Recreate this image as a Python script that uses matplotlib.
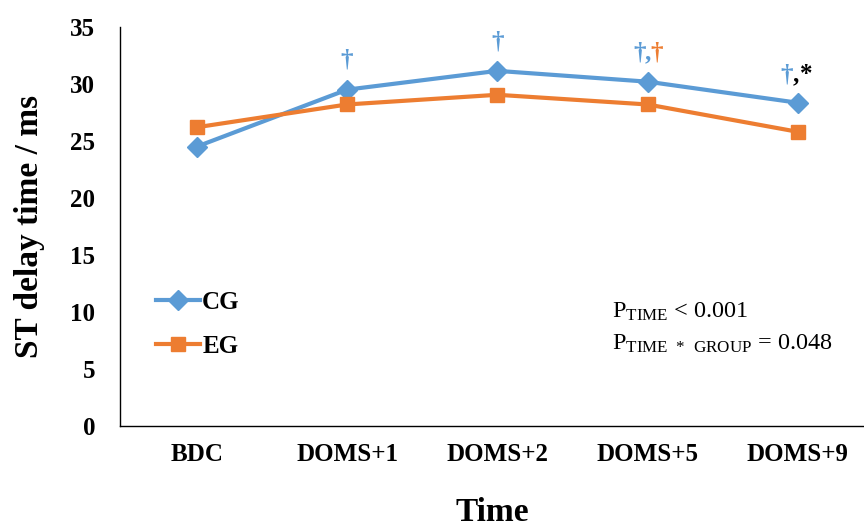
import matplotlib
matplotlib.use("Agg")
import matplotlib.pyplot as plt

plt.rcParams["font.family"] = ["Liberation Serif", "DejaVu Serif"]
plt.rcParams["mathtext.fontset"] = "custom"
plt.rcParams["mathtext.rm"] = "Liberation Serif"

times = ["BDC", "DOMS+1", "DOMS+2", "DOMS+5", "DOMS+9"]
cg = [24.5, 29.5, 31.15, 30.2, 28.35]
eg = [26.2, 28.2, 29.05, 28.2, 25.8]

blue = "#5B9BD5"
orange = "#ED7D31"

fig = plt.figure(figsize=(8.64, 5.29), dpi=100)
ax = fig.add_axes([0.139, 0.195, 0.861, 0.754])

x = range(len(times))
ax.plot(x, cg, color=blue, lw=3, marker="D", ms=10, label="CG")
ax.plot(x, eg, color=orange, lw=3, marker="s", ms=10.5, label="EG")

ax.set_xlim(-0.51, 4.44)
ax.set_ylim(0, 35)
ax.set_yticks(range(0, 36, 5))
ax.set_xticks(list(x))
ax.set_xticklabels(times)
ax.tick_params(length=0, labelsize=18, pad=12)
ax.tick_params(axis="y", pad=18)
for lab in ax.get_xticklabels() + ax.get_yticklabels():
    lab.set_fontweight("bold")
for s in ["top", "right"]:
    ax.spines[s].set_visible(False)
for s in ["left", "bottom"]:
    ax.spines[s].set_linewidth(1.0)

ax.set_xlabel("Time", fontsize=24, fontweight="bold", labelpad=23)
ax.set_ylabel("ST delay time / ms", fontsize=24, fontweight="bold", labelpad=18)

leg = ax.legend(loc="upper left", bbox_to_anchor=(0.018, 0.395), frameon=False,
                prop={"size": 18, "weight": "bold"}, handlelength=1.75,
                labelspacing=0.85, handletextpad=0.1)

# significance marks
def mark(i, pieces, dy=21):
    for dx, txt, col in pieces:
        ax.annotate(txt, (i, cg[i]), xytext=(dx, dy), textcoords="offset points",
                    ha="center", va="center", color=col, fontsize=18,
                    fontweight="bold")

mark(1, [(0, "†", blue)])
mark(2, [(0, "†", blue)])
mark(3, [(-6, "†", blue), (0.5, ",", blue), (6.5, "†", orange)])
mark(4, [(-8, "†", blue), (-1.5, ",", "black"), (6, "*", "black")], dy=20)

ax.text(0.661, 0.27, r"$\mathrm{P_{TIME}}$ < 0.001", transform=ax.transAxes,
        fontsize=17.5, ha="left", va="baseline")
ax.text(0.661, 0.19, r"$\mathrm{P_{TIME\ *\ GROUP}}$ = 0.048", transform=ax.transAxes,
        fontsize=17.5, ha="left", va="baseline")

fig.savefig("out.png", dpi=100)
